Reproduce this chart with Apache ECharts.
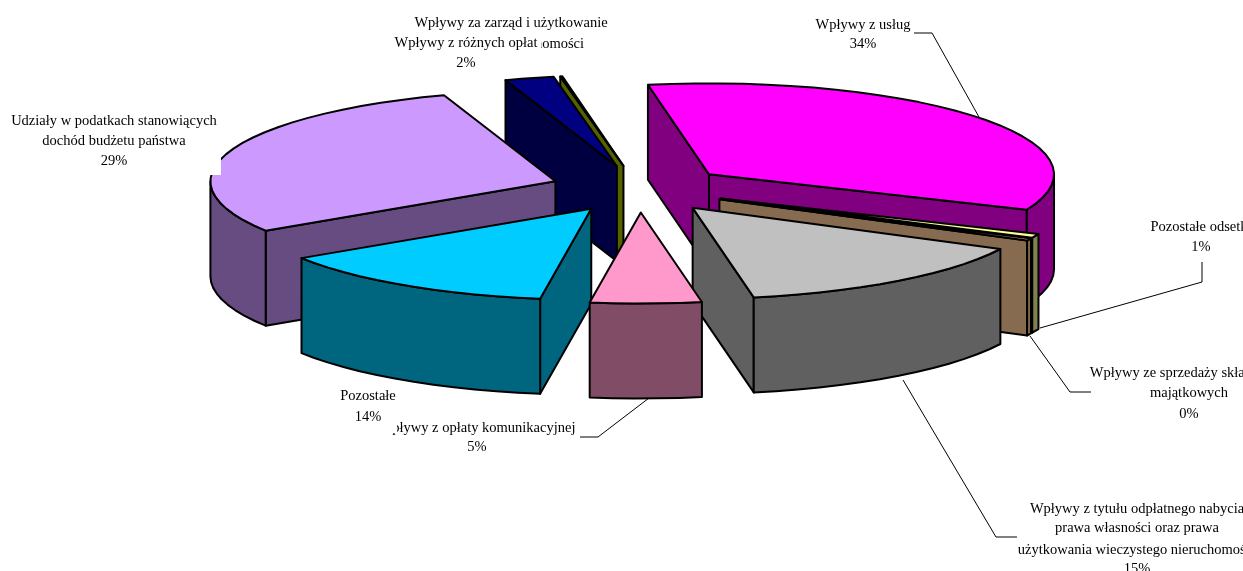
<!DOCTYPE html>
<html>
<head>
<meta charset="utf-8">
<style>
html, body { margin: 0; padding: 0; background: #fff; overflow: hidden; }
#chart { width: 1243px; height: 571px; }
</style>
<script src="https://cdn.jsdelivr.net/npm/echarts@6/dist/echarts.min.js"></script>
</head>
<body>
<div id="chart"></div>
<script>
// clockwise from the start angle, shares in percent
const sliceNames = [
    'Wpływy z usług', 'Pozostałe odsetki', 'Wpływy ze sprzedaży składników majątkowych',
    'Wpływy z tytułu odpłatnego nabycia prawa własności', 'Wpływy z opłaty komunikacyjnej',
    'Pozostałe', 'Udziały w podatkach', 'Wpływy za zarząd i użytkowanie', 'Wpływy z różnych opłat'
];
const sliceShares = [34.2, 0.7, 0.4, 14.7, 5.2, 13.5, 28.9, 2.3, 0.1];
const topColors = ['#ff00ff', '#ffff99', '#ffcc99', '#c0c0c0', '#ff99cc', '#00ccff', '#cc99ff', '#000080', '#556000'];
const wallColors = ['#800080', '#808050', '#876b50', '#606060', '#804c66', '#006680', '#664c80', '#000040', '#556000'];
// back to front
const drawOrder = [0, 1, 2, 3, 8, 7, 6, 5, 4];

const pie = { cx: 639.5, cy: 189, rx: 345, ry: 91, depth: 95, explode: 0.258, startAngle: -10.2 };

const font = '14.5px "Liberation Serif"';

// text blocks in paint order, a box hides what was painted before it
const labels = [
    { lines: ['Wpływy z usług', '34%'], x: 863, y: [25, 44] },
    { lines: ['Pozostałe odsetki', '1%'], x: 1201, y: [227, 247] },
    { lines: ['Wpływy ze sprzedaży składników', 'majątkowych', '0%'], x: 1189, y: [373, 393, 414] },
    { lines: ['Wpływy z tytułu odpłatnego nabycia', 'prawa własności oraz prawa', 'użytkowania wieczystego nieruchomości', '15%'], x: 1137, y: [509, 528, 550, 569] },
    { lines: ['Wpływy za zarząd i użytkowanie', 'wieczyste nieruchomości'], x: 511, y: [23, 44] },
    { lines: ['Wpływy z różnych opłat', '2%'], x: 466, y: [43, 63], box: [389, 33, 152, 40] },
    { lines: ['Wpływy z opłaty komunikacyjnej', '5%'], x: 477, y: [428, 447] },
    { lines: ['Pozostałe', '14%'], x: 368, y: [396, 417], box: [330, 385, 67, 48] },
    { lines: ['Udziały w podatkach stanowiących', 'dochód budżetu państwa', '29%'], x: 114, y: [121, 141, 161], box: [6, 108, 215, 67] }
];

const leaders = [
    [[914, 33], [932, 33], [979, 117]],
    [[1202, 262], [1202, 282], [1040, 328]],
    [[1091, 392], [1070, 392], [1030, 336]],
    [[903, 380], [996, 537], [1017, 537]],
    [[649, 398], [598, 437], [580, 437]]
];

const rad = (deg) => deg * Math.PI / 180;
const onRim = (deg, scale) => [pie.rx * scale * Math.sin(rad(deg)), -pie.ry * scale * Math.cos(rad(deg))];

let angle = pie.startAngle;
const sliceAngles = sliceShares.map((share) => {
    const from = angle;
    angle += share * 3.6;
    return [from, angle];
});
const seriesData = drawOrder.map((i) => ({ name: sliceNames[i], value: [sliceShares[i], sliceAngles[i][0], sliceAngles[i][1], i] }));

function arcPoints(apex, from, to) {
    const points = [];
    const steps = Math.max(1, Math.ceil((to - from) / 4));
    for (let s = 0; s <= steps; s++) {
        const p = onRim(from + (to - from) * s / steps, 1);
        points.push([apex[0] + p[0], apex[1] + p[1]]);
    }
    return points;
}

function face(points, fill) {
    return {
        type: 'polygon',
        shape: { points: points },
        style: { fill: fill, stroke: '#000', lineWidth: 2, lineJoin: 'round' }
    };
}

function renderSlice(params, api) {
    const from = api.value(1);
    const to = api.value(2);
    const index = api.value(3);
    const off = onRim((from + to) / 2, pie.explode);
    const apex = [pie.cx + off[0], pie.cy + off[1]];
    const down = (p) => [p[0], p[1] + pie.depth];
    const children = [];

    const rim = arcPoints(apex, from, to);
    const first = rim[0];
    const last = rim[rim.length - 1];
    if (Math.sin(rad(from)) < 0) {
        children.push(face([apex, first, down(first), down(apex)], wallColors[index]));
    }
    if (Math.sin(rad(to)) > 0) {
        children.push(face([apex, last, down(last), down(apex)], wallColors[index]));
    }
    const wallFrom = Math.max(from, 90);
    const wallTo = Math.min(to, 270);
    if (wallTo > wallFrom) {
        const wall = arcPoints(apex, wallFrom, wallTo);
        children.push(face(wall.concat(wall.map(down).reverse()), wallColors[index]));
    }
    children.push(face([apex].concat(rim), topColors[index]));
    return { type: 'group', children: children };
}

const graphics = [];
let z = 10;
leaders.forEach((points) => {
    graphics.push({
        type: 'polyline', z: z++, silent: true,
        shape: { points: points },
        style: { stroke: '#000', lineWidth: 1, fill: null }
    });
});
labels.forEach((label) => {
    if (label.box) {
        graphics.push({
            type: 'rect', z: z++, silent: true,
            shape: { x: label.box[0], y: label.box[1], width: label.box[2], height: label.box[3] },
            style: { fill: '#fff' }
        });
    }
    label.lines.forEach((line, i) => {
        graphics.push({
            type: 'text', z: z++, silent: true,
            style: { text: line, x: label.x, y: label.y[i], font: font, fill: '#000', textAlign: 'center', textVerticalAlign: 'middle' }
        });
    });
});

const chart = echarts.init(document.getElementById('chart'), null, { renderer: 'canvas' });
chart.setOption({
    backgroundColor: '#fff',
    animation: false,
    series: [{
        type: 'custom',
        coordinateSystem: 'none',
        silent: true,
        renderItem: renderSlice,
        data: seriesData
    }],
    graphic: graphics
});
</script>
</body>
</html>
